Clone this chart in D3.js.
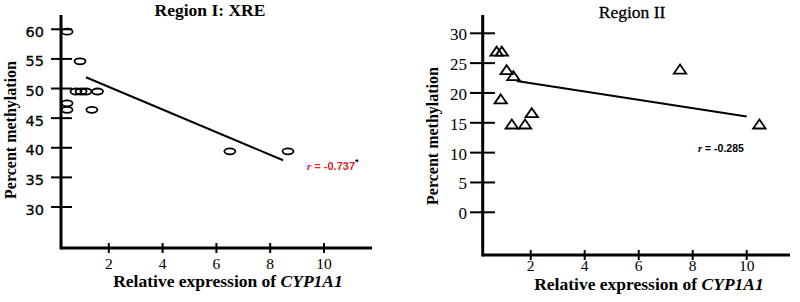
<!DOCTYPE html>
<html>
<head>
<meta charset="utf-8">
<script src="https://cdn.jsdelivr.net/npm/d3@7"></script>
<style>
  body { margin: 0; background: #fff; }
  svg { display: block; }
  .serif { font-family: "Liberation Serif", "Times New Roman", serif; }
  .sans { font-family: "DejaVu Sans", Verdana, sans-serif; }
</style>
</head>
<body>
<svg id="chart" width="800" height="302"></svg>
<script>
// Region I (XRE) - expression vs methylation
var regionIx = [0.45, 0.93, 0.78, 0.97, 1.15, 1.58, 0.45, 0.45, 1.37, 6.5, 8.66];
var regionIy = [59.6, 54.6, 49.5, 49.5, 49.5, 49.5, 47.5, 46.4, 46.4, 39.4, 39.4];
var regionIfit = [[1.15, 51.9], [8.48, 37.9]];

// Region II
var regionIIx = [0.74, 0.93, 1.11, 1.36, 0.89, 1.30, 1.79, 2.04, 7.53, 10.47];
var regionIIy = [27.0, 27.0, 23.9, 22.9, 19.0, 14.8, 14.8, 16.7, 24.0, 14.8];
var regionIIfit = [[1.48, 22.0], [10, 16.05]];

var xTicks = [2, 4, 6, 8, 10];
var yTicksI = [30, 35, 40, 45, 50, 55, 60];
var yTicksII = [0, 5, 10, 15, 20, 25, 30];

var svg = d3.select("#chart");

// ---------- left panel ----------
var xI = d3.scaleLinear().domain([0, 10]).range([55, 324]);
var yI = d3.scaleLinear().domain([30, 60]).range([207, 29.3]);
var gI = svg.append("g");

// axes lines
gI.append("line").attr("x1", 61).attr("x2", 61).attr("y1", 15).attr("y2", 249.5)
  .attr("stroke", "#000").attr("stroke-width", 3);
gI.append("line").attr("x1", 61).attr("x2", 372).attr("y1", 248).attr("y2", 248)
  .attr("stroke", "#000").attr("stroke-width", 3);

// y ticks
gI.selectAll(".yt").data(yTicksI).enter().append("line")
  .attr("x1", 51).attr("x2", 72)
  .attr("y1", function (d) { return yI(d); }).attr("y2", function (d) { return yI(d); })
  .attr("stroke", "#000").attr("stroke-width", 2);
gI.selectAll(".yl").data(yTicksI).enter().append("text")
  .attr("class", "sans")
  .attr("x", 44).attr("y", function (d) { return yI(d) + 7.5; })
  .attr("text-anchor", "end").attr("font-size", 14.5)
  .attr("stroke", "#000").attr("stroke-width", 0.3)
  .text(function (d) { return d; });

// x ticks
gI.selectAll(".xt").data(xTicks).enter().append("line")
  .attr("x1", function (d) { return xI(d); }).attr("x2", function (d) { return xI(d); })
  .attr("y1", 243).attr("y2", 253)
  .attr("stroke", "#000").attr("stroke-width", 2);
gI.selectAll(".xl").data(xTicks).enter().append("text")
  .attr("class", "serif")
  .attr("x", function (d) { return xI(d); }).attr("y", 269)
  .attr("text-anchor", "middle").attr("font-size", 15.5)
  .text(function (d) { return d; });

// fit line
gI.append("line")
  .attr("x1", xI(regionIfit[0][0])).attr("y1", yI(regionIfit[0][1]))
  .attr("x2", xI(regionIfit[1][0])).attr("y2", yI(regionIfit[1][1]))
  .attr("stroke", "#000").attr("stroke-width", 2);

// points (open ellipses)
gI.selectAll(".pt").data(d3.range(regionIx.length)).enter().append("ellipse")
  .attr("cx", function (i) { return xI(regionIx[i]); })
  .attr("cy", function (i) { return yI(regionIy[i]); })
  .attr("rx", 5.5).attr("ry", 3)
  .attr("fill", "none").attr("stroke", "#000").attr("stroke-width", 1.8);

// titles
gI.append("text").attr("class", "serif")
  .attr("x", 210).attr("y", 16).attr("text-anchor", "middle")
  .attr("font-size", 17.5).attr("font-weight", "bold").text("Region I: XRE");

var xlabI = gI.append("text").attr("class", "serif")
  .attr("x", 228).attr("y", 287).attr("text-anchor", "middle")
  .attr("font-size", 17.5).attr("font-weight", "bold");
xlabI.append("tspan").text("Relative expression of ");
xlabI.append("tspan").attr("font-style", "italic").text("CYP1A1");

gI.append("text").attr("class", "serif")
  .attr("transform", "translate(10,130) rotate(-90)")
  .attr("dy", "0.35em").attr("text-anchor", "middle")
  .attr("font-size", 16).attr("font-weight", "bold").text("Percent methylation");

var rI = gI.append("text").attr("x", 307).attr("y", 170)
  .attr("fill", "#e3222a").attr("font-size", 11).attr("font-weight", "bold")
  .attr("font-family", "Liberation Sans, Arial, sans-serif");
rI.append("tspan").attr("font-style", "italic").attr("font-family", "Liberation Serif, serif").text("r");
rI.append("tspan").text(" = -0.737");
rI.append("tspan").attr("fill", "#000").attr("dy", -5).attr("font-size", 9).text("*");

// ---------- right panel ----------
var xII = d3.scaleLinear().domain([0, 10]).range([476.7, 746.7]);
var yII = d3.scaleLinear().domain([0, 30]).range([212.3, 33.3]);
var gII = svg.append("g");

gII.append("line").attr("x1", 482.7).attr("x2", 482.7).attr("y1", 15).attr("y2", 256.5)
  .attr("stroke", "#000").attr("stroke-width", 3);
gII.append("line").attr("x1", 482.7).attr("x2", 790).attr("y1", 255).attr("y2", 255)
  .attr("stroke", "#000").attr("stroke-width", 3);

gII.selectAll(".yt").data(yTicksII).enter().append("line")
  .attr("x1", 470).attr("x2", 495)
  .attr("y1", function (d) { return yII(d); }).attr("y2", function (d) { return yII(d); })
  .attr("stroke", "#000").attr("stroke-width", 2);
gII.selectAll(".yl").data(yTicksII).enter().append("text")
  .attr("class", "serif")
  .attr("x", 467).attr("y", function (d) { return yII(d) + 7; })
  .attr("text-anchor", "end").attr("font-size", 17)
  .text(function (d) { return d; });

gII.selectAll(".xt").data(xTicks).enter().append("line")
  .attr("x1", function (d) { return xII(d); }).attr("x2", function (d) { return xII(d); })
  .attr("y1", 250).attr("y2", 260)
  .attr("stroke", "#000").attr("stroke-width", 2);
gII.selectAll(".xl").data(xTicks).enter().append("text")
  .attr("class", "serif")
  .attr("x", function (d) { return xII(d); }).attr("y", 270.5)
  .attr("text-anchor", "middle").attr("font-size", 15.5)
  .text(function (d) { return d; });

gII.append("line")
  .attr("x1", xII(regionIIfit[0][0])).attr("y1", yII(regionIIfit[0][1]))
  .attr("x2", xII(regionIIfit[1][0])).attr("y2", yII(regionIIfit[1][1]))
  .attr("stroke", "#000").attr("stroke-width", 2);

// points (open triangles)
gII.selectAll(".pt").data(d3.range(regionIIx.length)).enter().append("path")
  .attr("d", "M0,-4.5L6.2,4.5L-6.2,4.5Z")
  .attr("transform", function (i) { return "translate(" + xII(regionIIx[i]) + "," + yII(regionIIy[i]) + ")"; })
  .attr("fill", "none").attr("stroke", "#000").attr("stroke-width", 1.8)
  .attr("stroke-linejoin", "miter");

gII.append("text").attr("class", "serif")
  .attr("x", 632).attr("y", 18).attr("text-anchor", "middle")
  .attr("font-size", 17.5).attr("stroke", "#000").attr("stroke-width", 0.3)
  .text("Region II");

var xlabII = gII.append("text").attr("class", "serif")
  .attr("x", 649).attr("y", 289.5).attr("text-anchor", "middle")
  .attr("font-size", 17.5).attr("font-weight", "bold");
xlabII.append("tspan").text("Relative expression of ");
xlabII.append("tspan").attr("font-style", "italic").text("CYP1A1");

gII.append("text").attr("class", "serif")
  .attr("transform", "translate(432,136) rotate(-90)")
  .attr("dy", "0.35em").attr("text-anchor", "middle")
  .attr("font-size", 16).attr("font-weight", "bold").text("Percent methylation");

var rII = gII.append("text").attr("x", 698).attr("y", 152)
  .attr("fill", "#000").attr("font-size", 10.5).attr("font-weight", "bold")
  .attr("font-family", "Liberation Sans, Arial, sans-serif");
rII.append("tspan").attr("font-style", "italic").attr("font-family", "Liberation Serif, serif").text("r");
rII.append("tspan").text(" = -0.285");
</script>
</body>
</html>
